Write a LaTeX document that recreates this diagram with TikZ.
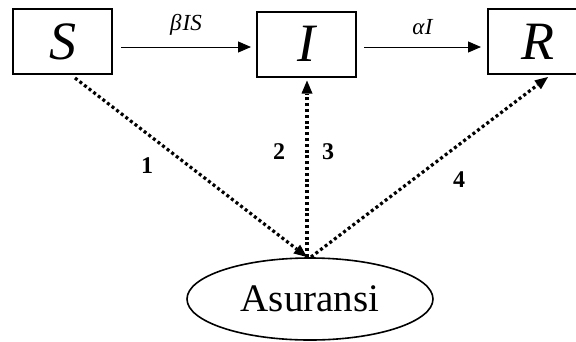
\documentclass[tikz,border=0pt]{standalone}
\usepackage{fontspec}
\setmainfont{Liberation Serif}
\usetikzlibrary{arrows.meta,shapes.geometric,calc}
\begin{document}
\begin{tikzpicture}[x=1pt,y=-1pt,
  compartment/.style={draw,line width=2pt,minimum width=99pt,minimum height=65pt,
    inner sep=0pt,font=\fontsize{54}{54}\selectfont\itshape},
  flow/.style={line width=1pt,-{Triangle[length=13pt,width=11pt]}},
  link/.style={line width=3.2pt,dash pattern=on 3pt off 2.8pt},
  linktip/.style={-{Triangle[length=13pt,width=11pt,line width=0pt]}},
  rate/.style={font=\fontsize{23}{23}\selectfont\itshape},
  num/.style={font=\fontsize{24}{24}\selectfont\bfseries}]
  \useasboundingbox (0,0) rectangle (576,341);

  % compartments of the SIR model
  \node[compartment] (S) at (62.5,41.5) {S};
  \node[compartment] (I) at (306.5,44) {I};
  \node[compartment] (R) at (537.5,41.5) {R};

  % insurance node
  \node[draw,ellipse,line width=1.6pt,minimum width=246pt,minimum height=82pt,
        inner sep=0pt,font=\fontsize{39}{39}\selectfont] (A) at (310,299) {Asuransi};
  \coordinate (hub) at (307,257);

  % transitions between compartments
  \draw[flow] ($(S.east)+(8,5.5)$) -- node[rate,above=8pt] {β\kern1pt IS} ($(I.west)+(-5,3)$);
  \draw[flow] ($(I.east)+(7,3)$) -- node[rate,above=8pt] {α\kern0.5pt I} ($(R.west)+(-6,5.5)$);

  % links with the insurance
  \draw[link,linktip] ($(S.south)+(12.5,3)$) -- (hub);
  \draw[link,linktip] (hub) -- ($(I.south)+(0.5,3)$);
  \draw[link,linktip] ($(hub)+(4,0)$) -- ($(R.south west)+(61,2)$);

  \node[num] (n1) at (147,166) {1};
  \node[num] (n2) at (279,152) {2};
  \node[num] (n3) at (328,152) {3};
  \node[num] (n4) at (459,180) {4};
\end{tikzpicture}
\end{document}
